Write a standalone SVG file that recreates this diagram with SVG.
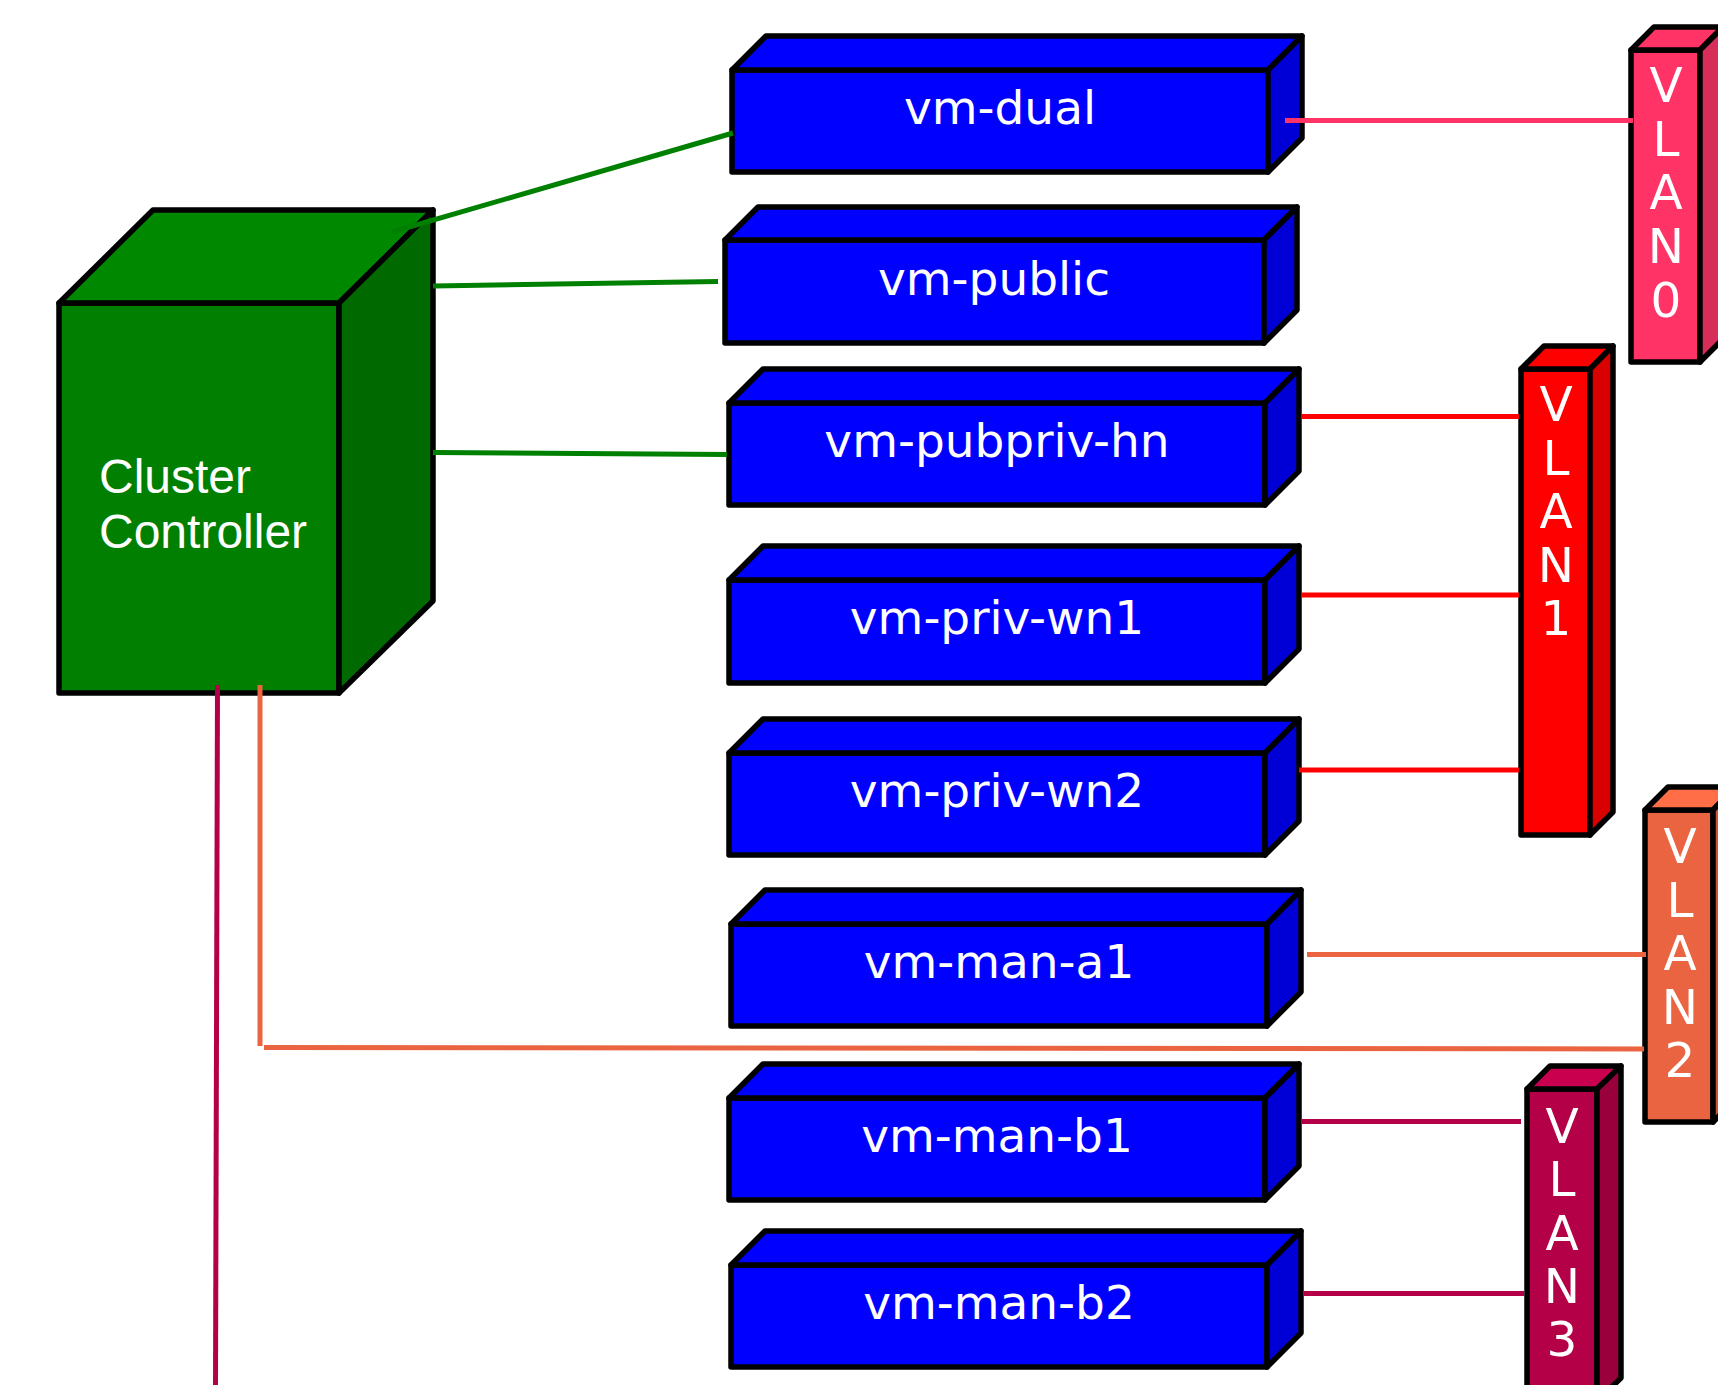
<svg xmlns="http://www.w3.org/2000/svg" width="1718" height="1385" viewBox="0 0 1718 1385">
<style>
  .edge{stroke:#000;stroke-width:5.5;stroke-linejoin:round}
  .vmf,.vmt{fill:#0000ff}
  .vms{fill:#0000d6}
  .lbl{font-family:"DejaVu Sans",sans-serif;font-size:47px;fill:#fff;text-anchor:middle}
  .vl{font-size:48.5px}
  .cc{font-family:"Liberation Sans",Arial,sans-serif;font-size:48px;fill:#fff}
  .con{fill:none;stroke-width:5}
</style>
<rect width="1718" height="1385" fill="#fff"/>
<g id="nodes">
  <g id="cluster-controller">
    <rect class="edge" x="59" y="303" width="280" height="390" fill="#007f00"/>
    <polygon class="edge" points="59,303 153,210 433,210 339,303" fill="#008800"/>
    <polygon class="edge" points="339,303 433,210 433,601 339,693" fill="#006a00"/>
    <text class="cc" x="99" y="493">Cluster</text>
    <text class="cc" x="99" y="548">Controller</text>
  </g>
  <g id="vm-dual">
    <rect class="edge vmf" x="732" y="70" width="536" height="102"/>
    <polygon class="edge vmt" points="732,70 766,36 1302,36 1268,70"/>
    <polygon class="edge vms" points="1268,70 1302,36 1302,138 1268,172"/>
    <text class="lbl" x="1000" y="124">vm-dual</text>
  </g>
  <g id="vm-public">
    <rect class="edge vmf" x="725" y="240" width="539" height="103"/>
    <polygon class="edge vmt" points="725,240 758,207 1297,207 1264,240"/>
    <polygon class="edge vms" points="1264,240 1297,207 1297,310 1264,343"/>
    <text class="lbl" x="994" y="295">vm-public</text>
  </g>
  <g id="vm-pubpriv-hn">
    <rect class="edge vmf" x="729" y="403" width="536" height="102"/>
    <polygon class="edge vmt" points="729,403 763,369 1299,369 1265,403"/>
    <polygon class="edge vms" points="1265,403 1299,369 1299,471 1265,505"/>
    <text class="lbl" x="997" y="457">vm-pubpriv-hn</text>
  </g>
  <g id="vm-priv-wn1">
    <rect class="edge vmf" x="729" y="580" width="536" height="103"/>
    <polygon class="edge vmt" points="729,580 763,546 1299,546 1265,580"/>
    <polygon class="edge vms" points="1265,580 1299,546 1299,649 1265,683"/>
    <text class="lbl" x="997" y="634">vm-priv-wn1</text>
  </g>
  <g id="vm-priv-wn2">
    <rect class="edge vmf" x="729" y="753" width="536" height="102"/>
    <polygon class="edge vmt" points="729,753 763,719 1299,719 1265,753"/>
    <polygon class="edge vms" points="1265,753 1299,719 1299,821 1265,855"/>
    <text class="lbl" x="997" y="807">vm-priv-wn2</text>
  </g>
  <g id="vm-man-a1">
    <rect class="edge vmf" x="731" y="924" width="536" height="102"/>
    <polygon class="edge vmt" points="731,924 765,890 1301,890 1267,924"/>
    <polygon class="edge vms" points="1267,924 1301,890 1301,992 1267,1026"/>
    <text class="lbl" x="999" y="978">vm-man-a1</text>
  </g>
  <g id="vm-man-b1">
    <rect class="edge vmf" x="729" y="1098" width="536" height="102"/>
    <polygon class="edge vmt" points="729,1098 763,1064 1299,1064 1265,1098"/>
    <polygon class="edge vms" points="1265,1098 1299,1064 1299,1166 1265,1200"/>
    <text class="lbl" x="997" y="1152">vm-man-b1</text>
  </g>
  <g id="vm-man-b2">
    <rect class="edge vmf" x="731" y="1265" width="536" height="102"/>
    <polygon class="edge vmt" points="731,1265 765,1231 1301,1231 1267,1265"/>
    <polygon class="edge vms" points="1267,1265 1301,1231 1301,1333 1267,1367"/>
    <text class="lbl" x="999" y="1319">vm-man-b2</text>
  </g>
  <g id="vlan0">
    <rect class="edge" x="1631" y="50" width="69" height="312" fill="#ff3366"/>
    <polygon class="edge" points="1631,50 1654,27 1723,27 1700,50" fill="#ff3366"/>
    <polygon class="edge" points="1700,50 1723,27 1723,339 1700,362" fill="#d72d59"/>
    <text class="lbl vl" x="1666" y="102">V<tspan x="1666" dy="53.7">L</tspan><tspan x="1666" dy="53.7">A</tspan><tspan x="1666" dy="53.7">N</tspan><tspan x="1666" dy="53.7">0</tspan></text>
  </g>
  <g id="vlan1">
    <rect class="edge" x="1521" y="369" width="69" height="466" fill="#ff0000"/>
    <polygon class="edge" points="1521,369 1544,346 1613,346 1590,369" fill="#ff0000"/>
    <polygon class="edge" points="1590,369 1613,346 1613,812 1590,835" fill="#d90000"/>
    <text class="lbl vl" x="1556" y="421">V<tspan x="1556" dy="53.6">L</tspan><tspan x="1556" dy="53.6">A</tspan><tspan x="1556" dy="53.6">N</tspan><tspan x="1556" dy="53.6">1</tspan></text>
  </g>
  <g id="vlan2">
    <rect class="edge" x="1645" y="810" width="68" height="312" fill="#eb6441"/>
    <polygon class="edge" points="1645,810 1668,787 1736,787 1713,810" fill="#ff6e46"/>
    <polygon class="edge" points="1713,810 1736,787 1736,1099 1713,1122" fill="#c85537"/>
    <text class="lbl vl" x="1680" y="863">V<tspan x="1680" dy="53.5">L</tspan><tspan x="1680" dy="53.5">A</tspan><tspan x="1680" dy="53.5">N</tspan><tspan x="1680" dy="53.5">2</tspan></text>
  </g>
  <g id="vlan3">
    <rect class="edge" x="1527" y="1089" width="70" height="312" fill="#b40046"/>
    <polygon class="edge" points="1527,1089 1550,1066 1621,1066 1597,1089" fill="#c8004e"/>
    <polygon class="edge" points="1597,1089 1621,1066 1621,1378 1597,1401" fill="#99003c"/>
    <text class="lbl vl" x="1562" y="1143">V<tspan x="1562" dy="53.3">L</tspan><tspan x="1562" dy="53.3">A</tspan><tspan x="1562" dy="53.3">N</tspan><tspan x="1562" dy="53.3">3</tspan></text>
  </g>
</g>
<g id="connectors">
  <line class="con" stroke="#008000" x1="392" y1="232" x2="733" y2="133"/>
  <line class="con" stroke="#008000" x1="433" y1="286" x2="718" y2="281.5"/>
  <line class="con" stroke="#008000" x1="433" y1="452.5" x2="727" y2="454.5"/>
  <line class="con" stroke="#ff3366" x1="1285" y1="120.5" x2="1633" y2="120.5"/>
  <line class="con" stroke="#ff0000" x1="1302" y1="416.5" x2="1519" y2="416.5"/>
  <line class="con" stroke="#ff0000" x1="1302" y1="595" x2="1519" y2="595"/>
  <line class="con" stroke="#ff0000" x1="1299" y1="770" x2="1519" y2="770"/>
  <line class="con" stroke="#eb6441" x1="1307" y1="954.5" x2="1646" y2="954.5"/>
  <line class="con" stroke="#eb6441" x1="260" y1="685" x2="260" y2="1046"/>
  <line class="con" stroke="#eb6441" x1="264" y1="1047.5" x2="1644" y2="1049"/>
  <line class="con" stroke="#b40046" x1="217.5" y1="685" x2="215.5" y2="1385"/>
  <line class="con" stroke="#b40046" x1="1302" y1="1121.5" x2="1521" y2="1121.5"/>
  <line class="con" stroke="#b40046" x1="1304" y1="1293.5" x2="1524" y2="1293.5"/>
</g>
</svg>
